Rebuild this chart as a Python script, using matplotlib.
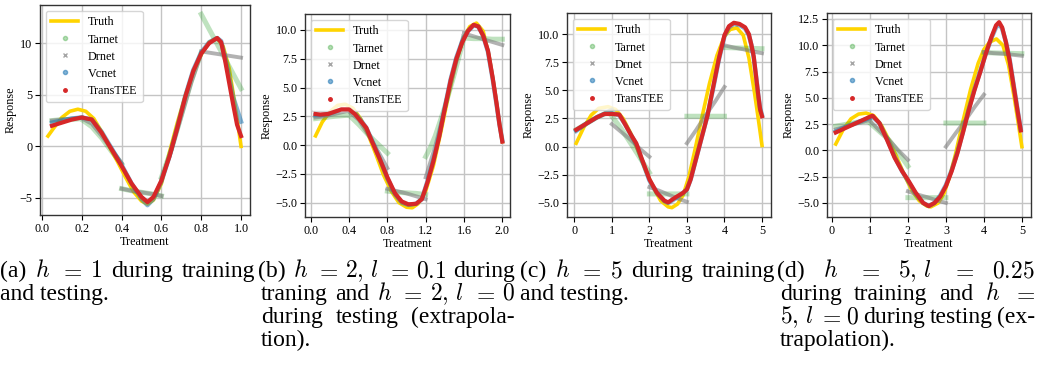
"""Dose-response curves of four estimators against the ground truth."""

import matplotlib

matplotlib.use("Agg")

import matplotlib.pyplot as plt
import numpy as np
from matplotlib.lines import Line2D
from matplotlib.ticker import MultipleLocator

nan = np.nan

# ---- panel (a): h = 1 ----
a_truth_x = [0.03, 0.06, 0.10, 0.14, 0.18, 0.22, 0.26, 0.30, 0.34, 0.38, 0.42, 0.46, 0.50, 0.53,
             0.56, 0.60, 0.64, 0.68, 0.72, 0.76, 0.80, 0.84, 0.88, 0.91, 0.94, 0.96, 0.98, 1.00]
a_truth_y = [1.0, 1.8, 2.8, 3.4, 3.6, 3.4, 2.7, 1.4, -0.1, -1.5, -3.0, -4.4, -5.3, -5.6,
             -5.2, -3.6, -0.6, 2.3, 4.9, 7.2, 8.9, 10.1, 10.5, 9.7, 7.6, 5.2, 2.7, 0.0]
a_tarnet_x = [0.05, 0.10, 0.15, 0.20, nan, 0.20, 0.25, 0.30, 0.35, 0.40, nan,
              0.40, 0.45, 0.50, 0.55, 0.60, nan, 0.60, 0.65, 0.70, 0.75, 0.80, nan,
              0.80, 0.85, 0.90, 0.95, 1.00]
a_tarnet_y = [2.5, 2.6, 2.6, 2.7, nan, 2.6, 1.9, 0.8, -0.5, -1.7, nan,
              -4.1, -4.3, -4.45, -4.6, -4.8, nan, -3.0, -0.3, 3.0, 6.3, 9.1, nan,
              12.8, 11.0, 9.2, 7.4, 5.6]
a_drnet_x = [0.05, 0.10, 0.15, 0.20, nan, 0.20, 0.25, 0.30, 0.35, 0.40, nan,
             0.40, 0.45, 0.50, 0.55, 0.60, nan, 0.60, 0.65, 0.70, 0.75, 0.80, nan,
             0.80, 0.85, 0.90, 0.95, 1.00]
a_drnet_y = [2.5, 2.6, 2.7, 2.8, nan, 2.7, 2.2, 1.0, -0.3, -1.6, nan,
             -4.1, -4.3, -4.45, -4.6, -4.8, nan, -3.1, -0.4, 2.9, 6.2, 9.0, nan,
             9.2, 9.05, 8.9, 8.75, 8.6]
a_model_x = [0.05, 0.10, 0.15, 0.20, 0.25, 0.30, 0.35, 0.40, 0.45, 0.50, 0.53, 0.56, 0.60,
             0.64, 0.68, 0.72, 0.76, 0.80, 0.84, 0.88, 0.90, 0.92, 0.94, 0.96, 0.98, 1.00]
a_vcnet_y = [2.3, 2.5, 2.7, 2.8, 2.6, 1.4, -0.2, -1.8, -3.6, -5.1, -5.7, -5.1, -3.4,
             -1.0, 1.9, 4.9, 7.4, 9.1, 10.1, 10.5, 10.2, 8.6, 6.8, 4.8, 3.6, 2.4]
a_transtee_y = [2.0, 2.3, 2.6, 2.8, 2.6, 1.3, -0.3, -1.9, -3.6, -4.9, -5.4, -4.9, -3.3,
                -1.0, 1.8, 4.8, 7.3, 9.0, 10.0, 10.5, 10.1, 8.3, 6.2, 4.1, 2.1, 1.0]

# ---- panel (b): h = 2, l = 0.1 ----
b_truth_x = [0.05, 0.12, 0.20, 0.28, 0.36, 0.44, 0.52, 0.60, 0.68, 0.76, 0.84, 0.92, 1.00, 1.06,
             1.12, 1.20, 1.28, 1.36, 1.44, 1.52, 1.60, 1.66, 1.73, 1.80, 1.86, 1.92, 1.96, 2.00]
b_truth_y = [0.8, 2.0, 2.9, 3.45, 3.55, 3.2, 2.3, 0.9, -0.8, -2.6, -4.0, -5.0, -5.4, -5.45,
             -5.1, -4.0, -1.8, 1.2, 4.4, 7.3, 9.4, 10.3, 10.6, 9.9, 7.8, 4.8, 2.4, 0.3]
b_tarnet_x = [0.05, 0.15, 0.25, 0.40, nan, 0.40, 0.50, 0.60, 0.70, 0.80, nan,
              0.80, 0.90, 1.00, 1.10, 1.20, nan, 1.20, 1.25, 1.30, 1.40, 1.50, 1.60, nan,
              1.60, 1.70, 1.80, 1.90, 2.00]
b_tarnet_y = [2.3, 2.4, 2.5, 2.6, nan, 2.6, 1.8, 0.9, 0.1, -0.7, nan,
              -4.0, -4.1, -4.15, -4.2, -4.3, nan, -1.0, -0.2, 0.8, 3.3, 6.2, 9.3, nan,
              9.3, 9.25, 9.25, 9.2, 9.2]
b_drnet_x = [0.05, 0.15, 0.25, 0.40, nan, 0.40, 0.50, 0.60, 0.70, 0.80, nan,
             0.80, 0.90, 1.00, 1.10, 1.20, nan, 1.20, 1.30, 1.40, 1.50, 1.60, nan,
             1.60, 1.70, 1.80, 1.90, 2.00]
b_drnet_y = [2.4, 2.5, 2.7, 3.0, nan, 2.9, 2.2, 0.9, -0.5, -2.0, nan,
             -3.8, -4.0, -4.2, -4.45, -4.7, nan, -2.8, -0.1, 3.2, 6.6, 9.7, nan,
             9.7, 9.45, 9.2, 8.95, 8.7]
b_model_x = [0.05, 0.10, 0.18, 0.25, 0.32, 0.40, 0.46, 0.52, 0.58, 0.64, 0.72, 0.80, 0.88,
             0.95, 1.02, 1.10, 1.16, 1.22, 1.28, 1.34, 1.40, 1.46, 1.52, 1.58, 1.64, 1.70,
             1.75, 1.80, 1.85, 1.90, 1.94, 1.97, 2.00]
b_vcnet_y = [2.6, 2.6, 2.7, 2.9, 3.1, 3.1, 2.8, 2.2, 1.5, 0.4, -1.2, -2.9, -4.3,
             -5.0, -5.2, -5.1, -4.7, -3.1, -1.3, 0.8, 3.3, 5.7, 7.6, 9.0, 9.9, 10.4,
             10.3, 9.5, 8.1, 5.7, 3.5, 1.8, 0.4]
b_transtee_y = [2.7, 2.65, 2.7, 2.9, 3.1, 3.1, 2.7, 2.1, 1.5, 0.3, -1.2, -2.8, -4.2,
                -4.9, -5.15, -5.1, -4.7, -3.2, -1.4, 0.7, 3.2, 5.6, 7.5, 8.9, 9.9, 10.45,
                10.3, 9.5, 8.2, 5.8, 3.6, 1.8, 0.3]

# ---- panel (c): h = 5 ----
c_truth_x = [0.05, 0.25, 0.45, 0.65, 0.90, 1.10, 1.30, 1.50, 1.70, 1.90, 2.10, 2.30, 2.50, 2.60,
             2.75, 2.90, 3.05, 3.20, 3.40, 3.60, 3.80, 4.00, 4.15, 4.33, 4.50, 4.65, 4.80, 4.90,
             5.00]
c_truth_y = [0.3, 1.7, 2.8, 3.4, 3.55, 3.3, 2.5, 1.2, -0.4, -2.1, -3.6, -4.8, -5.35, -5.42,
             -5.1, -4.3, -2.7, -0.5, 2.6, 5.6, 8.1, 9.8, 10.4, 10.55, 9.9, 7.9, 4.8, 2.5,
             0.1]
c_tarnet_x = [0.05, 0.30, 0.60, 1.00, nan, 1.00, 1.25, 1.50, 1.75, 2.00, nan,
              2.00, 2.50, 3.00, nan, 3.00, 3.50, 4.00, nan, 4.00, 4.50, 5.00]
c_tarnet_y = [1.5, 2.0, 2.6, 3.2, nan, 2.7, 1.6, 0.3, -1.0, -2.3, nan,
              -4.2, -4.2, -4.2, nan, 2.7, 2.7, 2.7, nan, 8.8, 8.75, 8.7]
c_drnet_x = [0.05, 0.30, 0.60, 1.00, nan, 1.00, 1.25, 1.50, 1.75, 2.00, nan,
             2.00, 2.25, 2.50, 2.75, 3.00, nan, 3.00, 3.25, 3.50, 3.75, 4.00, nan,
             4.00, 4.25, 4.50, 4.75, 5.00]
c_drnet_y = [1.5, 2.0, 2.6, 3.3, nan, 2.0, 1.3, 0.6, -0.2, -0.9, nan,
             -3.6, -3.9, -4.25, -4.6, -4.9, nan, 0.3, 1.5, 2.8, 4.0, 5.3, nan,
             9.0, 8.8, 8.65, 8.45, 8.3]
c_model_x = [0.05, 0.30, 0.60, 0.80, 1.00, 1.20, 1.35, 1.50, 1.65, 1.80, 2.00, 2.20, 2.40,
             2.50, 2.70, 2.90, 3.00, 3.10, 3.25, 3.40, 3.55, 3.70, 3.85, 4.00, 4.12, 4.25,
             4.40, 4.55, 4.65, 4.72, 4.78, 4.84, 4.90, 4.95, 5.00]
c_vcnet_y = [1.4, 2.0, 2.6, 2.9, 2.95, 2.8, 2.0, 1.1, 0.2, -1.2, -3.0, -4.1, -4.85,
             -5.0, -4.6, -4.1, -3.8, -2.9, -1.0, 0.9, 2.8, 5.2, 7.7, 9.8, 10.6, 10.9,
             10.8, 10.5, 9.9, 9.0, 7.9, 6.3, 4.6, 3.4, 2.8]
c_transtee_y = [1.5, 2.0, 2.6, 2.9, 2.9, 2.85, 2.0, 1.1, 0.3, -1.1, -2.9, -4.1, -4.8,
                -4.95, -4.5, -4.1, -3.8, -2.9, -1.0, 0.9, 2.8, 5.3, 7.8, 9.9, 10.7, 11.0,
                10.9, 10.6, 10.0, 9.0, 8.0, 6.3, 4.6, 3.3, 2.7]

# ---- panel (d): h = 5, l = 0.25 ----
d_truth_x = [0.10, 0.30, 0.50, 0.70, 0.90, 1.10, 1.30, 1.50, 1.70, 1.90, 2.10, 2.30, 2.50, 2.60,
             2.80, 2.95, 3.10, 3.25, 3.45, 3.65, 3.85, 4.00, 4.15, 4.33, 4.50, 4.65, 4.80, 4.90,
             5.00]
d_truth_y = [0.6, 2.0, 3.0, 3.45, 3.55, 3.3, 2.4, 1.0, -0.6, -2.3, -3.8, -4.8, -5.3, -5.38,
             -5.0, -4.1, -2.5, -0.4, 2.8, 5.8, 8.3, 9.6, 10.3, 10.6, 10.0, 8.1, 5.0, 2.7,
             0.35]
d_tarnet_x = [0.10, 0.40, 0.70, 1.00, nan, 1.00, 1.25, 1.50, 1.75, 2.00, nan,
              2.00, 2.50, 3.00, nan, 3.00, 3.50, 4.00, nan, 4.00, 4.50, 5.00]
d_tarnet_y = [2.3, 2.5, 2.7, 2.8, nan, 2.6, 1.8, 1.0, -0.2, -1.5, nan,
              -4.5, -4.5, -4.5, nan, 2.6, 2.6, 2.6, nan, 9.3, 9.25, 9.2]
d_drnet_x = [0.10, 0.40, 0.70, 1.00, nan, 1.00, 1.25, 1.50, 1.75, 2.00, nan,
             2.00, 2.25, 2.50, 2.75, 3.00, nan, 3.00, 3.25, 3.50, 3.75, 4.00, nan,
             4.00, 4.25, 4.50, 4.75, 5.00]
d_drnet_y = [2.0, 2.3, 2.6, 2.9, nan, 2.8, 1.9, 1.0, 0.0, -0.9, nan,
             -3.9, -4.2, -4.45, -4.75, -5.0, nan, 0.35, 1.6, 2.8, 4.1, 5.3, nan,
             9.35, 9.25, 9.2, 9.1, 9.0]
d_model_x = [0.10, 0.40, 0.70, 1.00, 1.07, 1.25, 1.45, 1.65, 1.85, 2.00, 2.20, 2.40, 2.55,
             2.70, 2.85, 3.00, 3.15, 3.30, 3.45, 3.60, 3.75, 3.90, 4.05, 4.20, 4.32, 4.40,
             4.48, 4.58, 4.68, 4.78, 4.88, 4.97]
d_vcnet_y = [1.8, 2.3, 2.7, 3.1, 3.2, 2.6, 1.1, -0.6, -2.0, -2.9, -4.1, -5.0, -5.3,
             -5.0, -4.3, -3.3, -1.9, -0.2, 1.8, 3.9, 5.8, 7.5, 9.2, 10.7, 11.7, 12.0,
             11.6, 10.3, 8.6, 6.3, 4.0, 2.0]
d_transtee_y = [1.7, 2.2, 2.7, 3.2, 3.3, 2.6, 1.0, -0.7, -2.0, -2.8, -4.0, -5.0, -5.3,
                -5.0, -4.4, -3.4, -2.0, -0.3, 1.7, 3.8, 5.7, 7.4, 9.2, 10.8, 11.9, 12.2,
                11.7, 10.3, 8.5, 6.2, 3.9, 1.9]

FIG_W, FIG_H = 1038, 366
LABEL_FS = 8.7
CAP_FS = 17

TRUTH_COLOR = "#ffd400"
TARNET_COLOR = "#2ca02c"
DRNET_COLOR = "#7f7f7f"
VCNET_COLOR = "#1f77b4"
TRANSTEE_COLOR = "#d62728"


def draw_panel(fig, box, data, xlim, ylim, xstep):
    """Draw one response panel; box is (left, top, right, bottom) in pixels."""
    left, top, right, bottom = box
    ax = fig.add_axes([left / FIG_W, 1 - bottom / FIG_H,
                       (right - left) / FIG_W, (bottom - top) / FIG_H])
    truth_x, truth_y, tar_x, tar_y, dr_x, dr_y, model_x, vc_y, tt_y = data

    ax.plot(truth_x, truth_y, color=TRUTH_COLOR, lw=2.6, zorder=2)
    ax.plot(tar_x, tar_y, color=TARNET_COLOR, lw=3.6, alpha=0.3, zorder=3)
    ax.plot(dr_x, dr_y, color=DRNET_COLOR, lw=2.8, alpha=0.6, zorder=4)
    ax.plot(model_x, vc_y, color=VCNET_COLOR, lw=3.2, alpha=0.55, zorder=5)
    ax.plot(model_x, tt_y, color=TRANSTEE_COLOR, lw=3.0, zorder=6)

    ax.set_xlim(*xlim)
    ax.set_ylim(*ylim)
    ax.xaxis.set_major_locator(MultipleLocator(xstep))
    ax.grid(True, color="#c4c4c4", lw=1.0, zorder=0)
    ax.set_axisbelow(True)
    ax.tick_params(direction="out", length=3.5, width=0.8, labelsize=LABEL_FS, pad=2)
    for spine in ax.spines.values():
        spine.set_color("#333333")
        spine.set_linewidth(1.0)
    ax.set_xlabel("Treatment", fontsize=LABEL_FS, labelpad=1)
    ax.set_ylabel("Response", fontsize=LABEL_FS, labelpad=2)

    handles = [
        Line2D([], [], color=TRUTH_COLOR, lw=2.6),
        Line2D([], [], color=TARNET_COLOR, alpha=0.35, marker="o", ms=3, ls="none"),
        Line2D([], [], color=DRNET_COLOR, alpha=0.7, marker="x", ms=3, mew=1, ls="none"),
        Line2D([], [], color=VCNET_COLOR, alpha=0.55, marker="o", ms=3, ls="none"),
        Line2D([], [], color=TRANSTEE_COLOR, marker="o", ms=2.5, ls="none"),
    ]
    ax.legend(handles, ["Truth", "Tarnet", "Drnet", "Vcnet", "TransTEE"],
              loc="upper left", fontsize=LABEL_FS, labelspacing=0.42,
              handlelength=2.2, borderpad=0.45, handletextpad=0.8)
    return ax


def caption_line(fig, tokens, x0, x1, y, justify=True):
    """Place caption words on one baseline, spread between x0 and x1 (pixels)."""
    renderer = fig.canvas.get_renderer()
    texts = [fig.text(0, 1 - y / FIG_H, tok, fontsize=CAP_FS, va="baseline", ha="left")
             for tok in tokens]
    widths = [t.get_window_extent(renderer).width for t in texts]
    if justify and len(tokens) > 1:
        gap = (x1 - x0 - sum(widths)) / (len(tokens) - 1)
    else:
        gap = 0.25 * CAP_FS * 100 / 72
    x = x0
    for text, width in zip(texts, widths):
        text.set_x(x / FIG_W)
        x += width + gap


def main():
    plt.rcParams["font.family"] = "serif"
    plt.rcParams["font.serif"] = ["Liberation Serif", "DejaVu Serif"]
    plt.rcParams["mathtext.fontset"] = "cm"

    fig = plt.figure(figsize=(FIG_W / 100, FIG_H / 100), dpi=100)

    draw_panel(fig, (40, 5, 250, 215),
               (a_truth_x, a_truth_y, a_tarnet_x, a_tarnet_y, a_drnet_x, a_drnet_y,
                a_model_x, a_vcnet_y, a_transtee_y),
               (-0.01, 1.045), (-6.65, 13.7), 0.2)
    draw_panel(fig, (305, 14, 510, 217),
               (b_truth_x, b_truth_y, b_tarnet_x, b_tarnet_y, b_drnet_x, b_drnet_y,
                b_model_x, b_vcnet_y, b_transtee_y),
               (-0.06, 2.08), (-6.25, 11.39), 0.4)
    draw_panel(fig, (567, 13, 771, 217),
               (c_truth_x, c_truth_y, c_tarnet_x, c_tarnet_y, c_drnet_x, c_drnet_y,
                c_model_x, c_vcnet_y, c_transtee_y),
               (-0.195, 5.24), (-6.25, 11.87), 1)
    draw_panel(fig, (827, 13, 1031, 217),
               (d_truth_x, d_truth_y, d_tarnet_x, d_tarnet_y, d_drnet_x, d_drnet_y,
                d_model_x, d_vcnet_y, d_transtee_y),
               (-0.13, 5.24), (-6.34, 13.07), 1)

    # captions, set as justified lines like the paper's two-column text
    fig.canvas.draw()
    caption_line(fig, ["(a)", "$h$", "$=$", "$1$", "during", "training"], 0, 255, 277)
    caption_line(fig, ["and testing."], 0, 0, 300, justify=False)
    caption_line(fig, ["(b)", "$h$", "$=$", r"$2,\,l$", "$=$", "$0.1$", "during"], 258, 515, 277)
    caption_line(fig, ["traning", "and", "$h$", "$=$", r"$2,\,l$", "$=$", "$0$"], 261, 515, 300)
    caption_line(fig, ["during", "testing", "(extrapola-"], 261, 515, 323)
    caption_line(fig, ["tion)."], 261, 261, 346, justify=False)
    caption_line(fig, ["(c)", "$h$", "$=$", "$5$", "during", "training"], 520, 775, 277)
    caption_line(fig, ["and testing."], 520, 520, 300, justify=False)
    caption_line(fig, ["(d)", "$h$", "$=$", r"$5,\,l$", "$=$", "$0.25$"], 777, 1035, 277)
    caption_line(fig, ["during", "training", "and", "$h$", "$=$"], 780, 1035, 300)
    caption_line(fig, [r"$5,\,l$", "$=$", "$0$", "during", "testing", "(ex-"], 780, 1035, 323)
    caption_line(fig, ["trapolation)."], 780, 780, 346, justify=False)

    fig.savefig("out.png", dpi=100)
    plt.close(fig)


if __name__ == "__main__":
    main()
